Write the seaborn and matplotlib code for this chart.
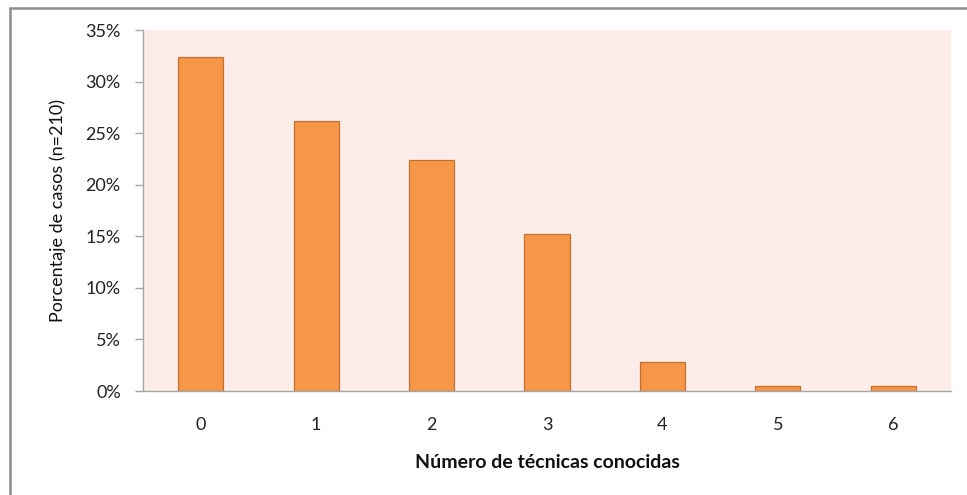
import matplotlib
matplotlib.use("Agg")
import matplotlib.pyplot as plt
from matplotlib.lines import Line2D
from matplotlib.ticker import PercentFormatter, MultipleLocator
import seaborn as sns
import pandas as pd

# Distribution of cases by number of known techniques (n=210)
tecnicas = ["0", "1", "2", "3", "4", "5", "6"]
casos = [68, 55, 47, 32, 6, 1, 1]
total = 210
porcentaje = [100 * c / total for c in casos]

df = pd.DataFrame({"tecnicas": tecnicas, "porcentaje": porcentaje})

sns.set_theme(style="white")
plt.rcParams["font.family"] = ["Lato", "DejaVu Sans"]

fig = plt.figure(figsize=(9.67, 4.95), dpi=100)
ax = fig.add_axes([143 / 967, 1 - 391 / 495, (951 - 143) / 967, (391 - 30) / 495])
ax.set_facecolor("#FCEDE8")

sns.barplot(data=df, x="tecnicas", y="porcentaje", color="#F79646",
            width=0.39, edgecolor="#C0712F", linewidth=0.9, saturation=1,
            ax=ax)

ax.set_ylim(0, 35)
ax.set_xlim(-0.5, 6.5)
ax.yaxis.set_major_locator(MultipleLocator(5))
ax.yaxis.set_major_formatter(PercentFormatter(decimals=0))

for side in ["top", "right"]:
    ax.spines[side].set_visible(False)
for side in ["left", "bottom"]:
    ax.spines[side].set_color("#A6A6A6")
    ax.spines[side].set_linewidth(1.0)

ax.tick_params(axis="y", which="major", left=True, length=6, width=1,
               color="#A6A6A6", pad=10, labelsize=13, labelcolor="#222222")
ax.tick_params(axis="x", bottom=False, pad=13, labelsize=13, labelcolor="#222222")

ax.set_xlabel("Número de técnicas conocidas", fontsize=14, fontweight="bold",
              color="#111111", labelpad=15)
ax.set_ylabel("Porcentaje de casos (n=210)", fontsize=13, color="#111111",
              labelpad=14)

# Outer frame of the chart area
fig.add_artist(Line2D([9.5 / 967, 9.5 / 967], [0, 1 - 7.5 / 495],
                      transform=fig.transFigure, color="#8C8C8C", linewidth=1.8))
fig.add_artist(Line2D([9.5 / 967, 1], [1 - 7.5 / 495, 1 - 7.5 / 495],
                      transform=fig.transFigure, color="#8C8C8C", linewidth=1.8))

fig.savefig("out.png", dpi=100)
